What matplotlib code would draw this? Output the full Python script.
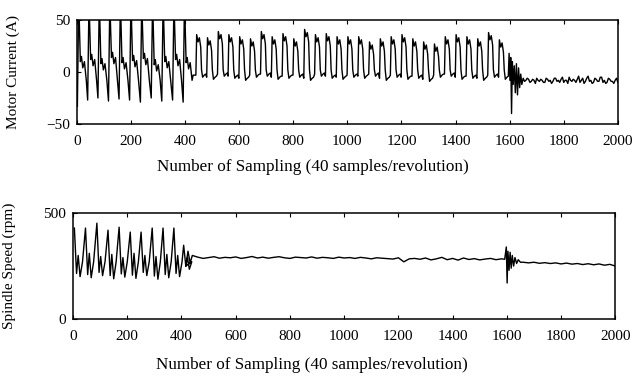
import matplotlib
matplotlib.use("Agg")
import matplotlib.pyplot as plt

plt.rcParams["font.family"] = ["Liberation Serif", "DejaVu Serif"]

# ---- motor current (A) ----
# first ~10 revolutions: big swings clipped at +50, one trough per revolution
big_start = [2, 40, 78, 117, 156, 195, 235, 275, 314, 354, 393]
big_trough = [-33, -27, -25, -28, -26, -27, -29, -25, -28, -27, -29]
big_shoulder = [10, 12, 8, 14, 9, 11, 13, 7, 10, 12, 9]

# steady cutting: one current pulse per revolution
pulse_start = [440, 480, 520, 559, 599, 639, 679, 719, 759, 799, 839, 879, 919,
               959, 999, 1039, 1079, 1119, 1159, 1199, 1239, 1279, 1319, 1359,
               1399, 1439, 1479, 1519, 1559]
pulse_peak = [36, 33, 39, 36, 34, 32, 39, 34, 37, 32, 41, 36, 37, 34, 34,
              34, 29, 32, 34, 36, 32, 29, 27, 34, 36, 34, 32, 38, 31]
pulse_base = [-3, -5, -2, -4, -6, -3, -2, -5, -4, -3, -6, -2, -4, -5, -3,
              -4, -2, -6, -3, -5, -4, -7, -3, -2, -5, -4, -6, -3, -5]

# transient near sample 1600
cur_tr_x = [1595, 1598, 1601, 1604, 1607, 1610, 1613, 1617, 1621, 1625, 1629,
            1633, 1637, 1641, 1645, 1650, 1655]
cur_tr_y = [-4, 18, -8, 14, -40, 10, -12, 6, -20, 8, -22, 4, -15, -2, -12, -6, -9]

# after the transient (every 5 samples from 1660 to 2000)
cur_flat = [-8, -6, -7, -10, -9, -7, -8, -11, -6, -8, -9, -7, -8, -10, -10, -6,
            -7, -9, -8, -11, -9, -6, -6, -9, -8, -10, -7, -5, -10, -8, -8, -11,
            -5, -8, -9, -7, -8, -10, -7, -4, -10, -8, -6, -11, -9, -6, -4, -9,
            -8, -11, -10, -6, -7, -9, -9, -5, -5, -10, -8, -11, -10, -6, -7, -9,
            -9, -11, -8, -6, -10]

# ---- spindle speed (rpm) ----
spd_peak_x = [5, 46, 88, 129, 170, 211, 251, 292, 332, 372, 408]
spd_peak = [429, 429, 452, 419, 433, 410, 410, 429, 429, 429, 348]
spd_trough = [200, 195, 205, 190, 198, 192, 205, 188, 195, 200, 235]
spd_bump = [300, 310, 295, 305, 290, 310, 300, 295, 305, 300, 290]

# settled speed, every 20 samples from 440 to 1580
spd_flat1 = [300, 292, 286, 290, 294, 287, 291, 289, 293, 286,
             290, 295, 288, 292, 287, 291, 294, 289, 286, 292,
             290, 288, 293, 287, 291, 289, 286, 292, 288, 290,
             286, 291, 288, 284, 289, 287, 285, 283, 289, 270,
             284, 286, 282, 288, 279, 284, 291, 280, 286, 278,
             288, 281, 285, 279, 283, 286, 280, 284]

# transient near sample 1600
spd_tr_x = [1592, 1598, 1601, 1604, 1608, 1612, 1616, 1620, 1625, 1630, 1636,
            1642, 1650]
spd_tr_y = [282, 340, 170, 320, 230, 315, 240, 300, 250, 290, 262, 280, 268]

# every 20 samples from 1660 to 2000
spd_flat2 = [268, 265, 268, 263, 266, 262, 265, 260, 264, 259, 262, 257,
             261, 256, 260, 254, 258, 250]

# ---- assemble the traces ----
cx, cy = [], []
for s, tr, sh in zip(big_start, big_trough, big_shoulder):
    cx += [s, s + 4, s + 7, s + 11, s + 15, s + 20, s + 26, s + 33]
    cy += [tr, 50, 50, sh, sh + 5, sh - 6, sh, -8]
cx += [430]
cy += [-3]
for s, p, b in zip(pulse_start, pulse_peak, pulse_base):
    cx += [s, s + 3, s + 8, s + 13, s + 18, s + 21, s + 25, s + 31, s + 36]
    cy += [b, p, p - 7, p - 3, p - 12, 2, b - 2, b, b + 1]
cx += cur_tr_x
cy += cur_tr_y
cx += list(range(1660, 2001, 5))
cy += cur_flat

sx, sy = [], []
for p, v, tr, bm in zip(spd_peak_x, spd_peak, spd_trough, spd_bump):
    sx += [p, p + 8, p + 14, p + 21, p + 30]
    sy += [v, tr + 15, bm, tr, 270]
sx += [416, 424, 432]
sy += [250, 320, 265]
sx += list(range(440, 1581, 20))
sy += spd_flat1
sx += spd_tr_x
sy += spd_tr_y
sx += list(range(1660, 2001, 20))
sy += spd_flat2

fig = plt.figure(figsize=(6.35, 3.79), dpi=100)
ax1 = fig.add_axes([0.121, 0.673, 0.852, 0.274])
ax2 = fig.add_axes([0.115, 0.158, 0.854, 0.28])

ax1.plot(cx, cy, color="black", lw=1.0)
ax2.plot(sx, sy, color="black", lw=1.0)

xticks = list(range(0, 2001, 200))
for ax, lp, lx in ((ax1, 8, 0.436), (ax2, 10, 0.44)):
    ax.set_xlim(0, 2000)
    ax.set_xticks(xticks)
    ax.tick_params(direction="in", top=True, length=3, width=0.8,
                   labelsize=11, pad=8)
    ax.tick_params(axis="y", pad=5)
    for sp in ax.spines.values():
        sp.set_linewidth(1.1)
    ax.set_xlabel("Number of Sampling (40 samples/revolution)", fontsize=12.3,
                  labelpad=lp)
    ax.xaxis.label.set_x(lx)

ax1.set_ylim(-50, 50)
ax1.set_yticks([-50, 0, 50])
ax1.set_ylabel("Motor Current (A)", fontsize=11)
ax1.yaxis.set_label_coords(-0.105, 0.5)

ax2.set_ylim(0, 500)
ax2.set_yticks([0, 500])
ax2.set_ylabel("Spindle Speed (rpm)", fontsize=11)
ax2.yaxis.set_label_coords(-0.105, 0.5)

fig.savefig("out.png", dpi=100)
